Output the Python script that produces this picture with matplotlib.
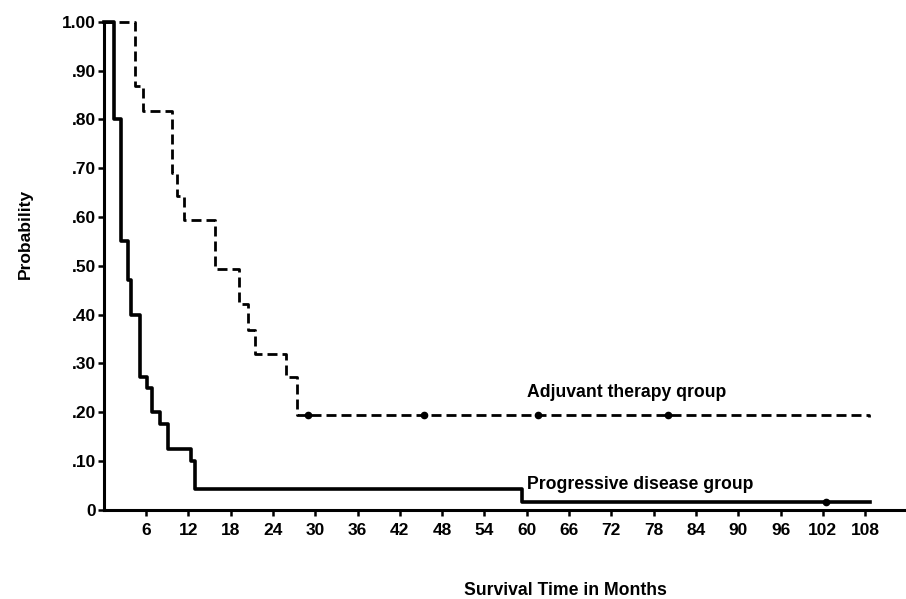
import matplotlib
matplotlib.use("Agg")
import matplotlib.pyplot as plt

# survival curves (months, probability)
prog_months = [0, 1.5, 2.45, 3.5, 3.9, 5.1, 6.1, 6.9, 8.0, 9.1, 12.4, 12.9, 59.3, 108.7]
prog_surv = [1.00, 0.80, 0.55, 0.47, 0.40, 0.273, 0.25, 0.20, 0.176, 0.125, 0.10, 0.043, 0.017, 0.017]
prog_censor = [102.5]

adj_months = [0, 4.45, 5.6, 9.75, 10.4, 11.4, 15.8, 19.2, 20.4, 21.5, 25.9, 27.4, 108.6]
adj_surv = [1.00, 0.868, 0.818, 0.691, 0.643, 0.593, 0.494, 0.422, 0.369, 0.32, 0.273, 0.194, 0.19]
adj_censor = [29.0, 45.4, 61.6, 80.0]

x_ticks = list(range(6, 109, 6))
y_ticks = [0, 0.1, 0.2, 0.3, 0.4, 0.5, 0.6, 0.7, 0.8, 0.9, 1.0]
y_labels = ["0", ".10", ".20", ".30", ".40", ".50", ".60", ".70", ".80", ".90", "1.00"]

plt.rcParams['font.family'] = ['Liberation Sans', 'DejaVu Sans']
plt.rcParams['font.weight'] = 'bold'

fig = plt.figure(figsize=(9.06, 5.99), dpi=100)
ax = fig.add_axes([0.1145, 0.1486, 0.8855, 0.8152 * 1.01])

ax.step(prog_months, prog_surv, where='post', color='black', lw=2.6, clip_on=False)
adj_line, = ax.step(adj_months, adj_surv, where='post', color='black', lw=2.0, clip_on=False)
adj_line.set_dashes((3.6, 1.8))


def surv_at(months, surv, t):
    val = surv[0]
    for m, s in zip(months, surv):
        if m <= t:
            val = s
    return val


ax.plot(adj_censor, [surv_at(adj_months, adj_surv, t) for t in adj_censor],
        'o', color='black', ms=4.5, clip_on=False)
ax.plot(prog_censor, [surv_at(prog_months, prog_surv, t) for t in prog_censor],
        'o', color='black', ms=4.5, clip_on=False)

ax.text(60.0, 0.24, "Adjuvant therapy qroup", fontsize=12.7, fontweight='bold', va='center')
ax.text(60.0, 0.052, "Progressive disease group", fontsize=12.7, fontweight='bold', va='center')

ax.set_xlim(0, 113.8)
ax.set_ylim(0, 1.01)
ax.set_xticks(x_ticks)
ax.set_xticklabels([str(t) for t in x_ticks], fontsize=12.5, fontweight='bold')
ax.set_yticks(y_ticks)
ax.set_yticklabels(y_labels, fontsize=12.5, fontweight='bold')

ax.spines['top'].set_visible(False)
ax.spines['right'].set_visible(False)
ax.spines['left'].set_linewidth(2.2)
ax.spines['bottom'].set_linewidth(2.2)
ax.spines['left'].set_bounds(0, 1.0)
ax.tick_params(axis='both', direction='out', length=4.5, width=1.8)
ax.tick_params(axis='x', pad=5)
ax.tick_params(axis='y', pad=1)

ax.set_xlabel("Survival Time in Months", fontsize=12.7, fontweight='bold')
ax.xaxis.set_label_coords(0.576, -0.146)
ax.set_ylabel("Probability", fontsize=12.5, fontweight='bold')
ax.yaxis.set_label_coords(-0.088, 0.56)

fig.savefig("out.png", dpi=100)
